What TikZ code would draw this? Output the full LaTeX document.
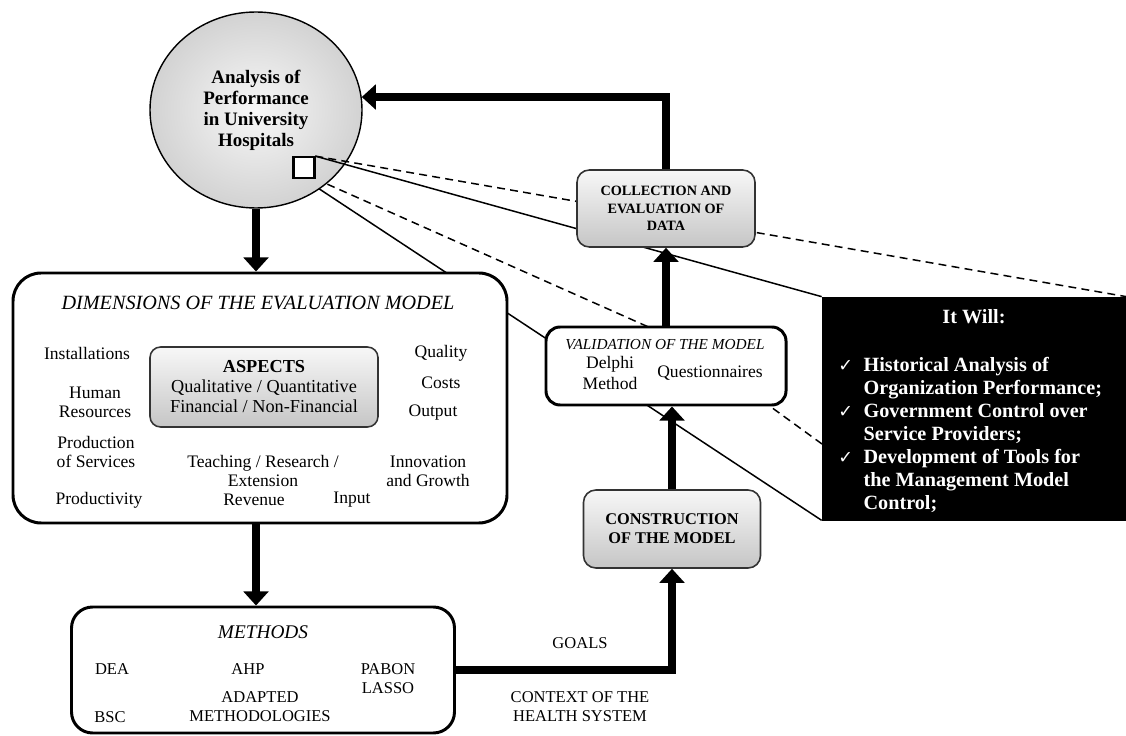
\documentclass[tikz,border=0pt]{standalone}
\usepackage{fontspec}
\setmainfont{Liberation Serif}
\newfontfamily\symfont{DejaVu Sans}
\usetikzlibrary{arrows.meta,shapes.geometric,calc}
\newlength{\unitpx}
\setlength{\unitpx}{0.02cm}
\newcommand{\fsz}[2]{\fontsize{#1}{#2}\selectfont}
\newcommand{\tick}{{\symfont\mdseries\fsz{10}{13}✓}}

\begin{document}
\begin{tikzpicture}[x=0.02cm, y=-0.02cm,
    bigarrow/.style={line width=5pt, line join=miter, -{Triangle[width=14pt,length=8pt]}},
    thinline/.style={line width=0.85pt},
    dashline/.style={line width=0.85pt, dash pattern=on 4.5pt off 3pt},
    whitebox/.style={draw, line width=1.7pt, fill=white, inner sep=0pt, align=center},
    graybox/.style={draw=black!80, line width=0.9pt, rounded corners=7pt, top color=gray!6, bottom color=gray!45, inner sep=0pt, align=center},
    txt/.style={align=center, font=\fsz{10}{10.8}},
    caps/.style={align=center, font=\fsz{9.4}{10.8}}]
    \useasboundingbox (0,0) rectangle (1126,736);

    % black box with the zoomed content
    \node[fill=black, draw=black, minimum width=304\unitpx, minimum height=223\unitpx, inner sep=0pt] (blk) at (974,408.5) {};
    \node[text=white, font=\bfseries\fsz{11.5}{13}] (willtitle) at (974,317) {It Will:};
    \node[anchor=north west, inner sep=0pt, text=white, font=\bfseries\fsz{11.5}{13.1}] (willlist) at (838,355) {%
      \begin{tabular}{@{}l@{\hspace{6pt}}l@{}}
        \tick & Historical Analysis of\\
              & Organization Performance;\\
        \tick & Government Control over\\
              & Service Providers;\\
        \tick & Development of Tools for\\
              & the Management Model\\
              & Control;
      \end{tabular}};

    % zoom lines behind the circle
    \node[minimum size=22\unitpx, inner sep=0pt] (sq) at (304,167.5) {};
    \coordinate (bend) at (680,341);
    \coordinate (dashend) at (822,444);
    \draw[dashline] (sq.south east) -- (bend) -- (dashend);
    \draw[thinline] (sq.south) -- (blk.south west);

    \node[ellipse, draw, line width=0.8pt, minimum width=212\unitpx, minimum height=196\unitpx, inner sep=0pt,
      shading=radial, inner color=gray!6, outer color=gray!35, align=center,
      font=\bfseries\fsz{10.8}{12}] (circ) at (256,110) {Analysis of\\Performance\\in University\\Hospitals};

    % zoom lines over the circle
    \draw[dashline] (sq.north east) -- (blk.north east);
    \draw[thinline] (sq.north east) -- (blk.north west);
    \node[draw, line width=1.4pt, fill=white, minimum size=21\unitpx, inner sep=0pt] (sqbox) at (sq) {};

    % dimensions
    \node[whitebox, rounded corners=16pt, minimum width=494\unitpx, minimum height=250\unitpx] (dims) at (260,398) {};
    \node[font=\itshape\fsz{11.5}{13}] (dimtitle) at (258,303) {DIMENSIONS OF THE EVALUATION MODEL};
    \node[graybox, rounded corners=6pt, minimum width=228\unitpx, minimum height=80\unitpx, font=\fsz{10.4}{11.4}] (asp) at (264,387)
      {\textbf{ASPECTS}\\Qualitative / Quantitative\\Financial / Non-Financial};
    \node[txt] (inst) at (87,353) {Installations};
    \node[txt] (hr) at (95,402) {Human\\Resources};
    \node[txt] (prod) at (96,452) {Production\\of Services};
    \node[txt] (prodv) at (99,500) {Productivity};
    \node[txt] (qual) at (441,353) {Quality};
    \node[txt] (cost) at (441,383) {Costs};
    \node[txt] (outp) at (433,413) {Output};
    \node[txt] (teach) at (263,471) {Teaching / Research /\\Extension};
    \node[txt] (innov) at (428,471) {Innovation\\and Growth};
    \node[txt] (rev) at (254,500) {Revenue};
    \node[txt] (inp) at (352,500) {Input};

    % methods
    \node[whitebox, rounded corners=12pt, minimum width=383\unitpx, minimum height=126\unitpx] (meth) at (263,670) {};
    \node[font=\itshape\fsz{11}{12}] (methtitle) at (263,632) {METHODS};
    \node[caps] (dea) at (112,669) {DEA};
    \node[caps] (ahp) at (248,669) {AHP};
    \node[caps] (pabon) at (388,679) {PABON\\LASSO};
    \node[caps] (adapt) at (260,707) {ADAPTED\\METHODOLOGIES};
    \node[caps] (bsc) at (110,717) {BSC};

    % right column
    \node[whitebox, rounded corners=8pt, minimum width=240\unitpx, minimum height=78\unitpx] (val) at (666,366) {};
    \node[font=\itshape\fsz{8.7}{10}] (valtitle) at (665,345) {VALIDATION OF THE MODEL};
    \node[align=center, font=\fsz{10}{11.4}] (delphi) at (610,373) {Delphi\\Method};
    \node[font=\fsz{10}{11.4}] (quest) at (710,373) {Questionnaires};
    \node[graybox, minimum width=178\unitpx, minimum height=77\unitpx, font=\bfseries\fsz{8.1}{9.8}] (collect) at (666,208.5)
      {COLLECTION AND\\EVALUATION OF\\DATA};
    \node[graybox, minimum width=177\unitpx, minimum height=78\unitpx, font=\bfseries\fsz{9.3}{10.8}] (constr) at (672,529)
      {CONSTRUCTION\\OF THE MODEL};
    \node[caps] (goals) at (580,643) {GOALS};
    \node[caps] (context) at (580,707) {CONTEXT OF THE\\HEALTH SYSTEM};

    % thick arrows
    \draw[bigarrow] (circ.south) -- (circ.south |- dims.north);
    \draw[bigarrow] (dims.south -| circ.south) -- (circ.south |- meth.north);
    \draw[bigarrow] (meth.east) -| (constr.south);
    \draw[bigarrow] (constr.north) -- (constr.north |- val.south);
    \draw[bigarrow] (val.north) -- (val.north |- collect.south);
    \draw[bigarrow] (collect.north) |- (circ.7);
\end{tikzpicture}
\end{document}
